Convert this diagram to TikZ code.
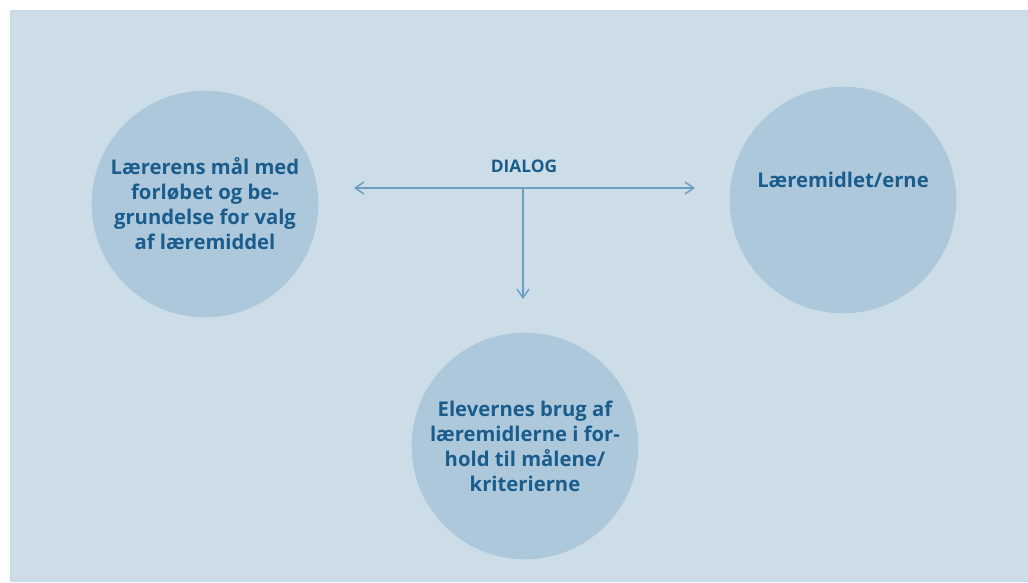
\documentclass[tikz,border=0pt]{standalone}
\usepackage{fontspec}
\setmainfont{Open Sans}
\usetikzlibrary{arrows.meta}
\definecolor{bund}{HTML}{CCDDE7}
\definecolor{boble}{HTML}{ADC8DB}
\definecolor{skrift}{HTML}{1A5C8C}
\definecolor{pil}{HTML}{6A9FC3}
\begin{document}
\begin{tikzpicture}[x=0.75pt, y=-0.75pt, >={Straight Barb[length=6.5pt,width=9pt]},
  bubble/.style={circle, fill=boble, minimum size=170pt, inner sep=0pt},
  bubbletext/.style={text=skrift, align=center, font=\fontsize{15.2}{18.8}\selectfont\bfseries},
  dialogline/.style={draw=pil, line width=1.1pt}]
\useasboundingbox (0,0) rectangle (1028,582);
\fill[bund] (10,10) rectangle (1028,582);
\node[bubble, bubbletext] (laerer) at (205,204) {Lærerens mål med\\forløbet og be-\\grundelse for valg\\af læremiddel};
\node[bubble, label={[bubbletext, yshift=15pt]center:Læremidlet/erne}] (midler) at (843,200) {};
\node[bubble, bubbletext] (elever) at (525,446) {Elevernes brug af\\læremidlerne i for-\\hold til målene/\\kriterierne};
\node[text=skrift, font=\fontsize{13}{15}\selectfont\bfseries] (dialog) at (524,166) {DIALOG};
\coordinate (venstre) at (354,188);
\coordinate (hoejre) at (695,188);
\coordinate (midt) at (523,188);
\coordinate (ned) at (523,299);
\draw[dialogline, <->] (venstre) -- (hoejre);
\draw[dialogline, ->] (midt) -- (ned);

\end{tikzpicture}
\end{document}
